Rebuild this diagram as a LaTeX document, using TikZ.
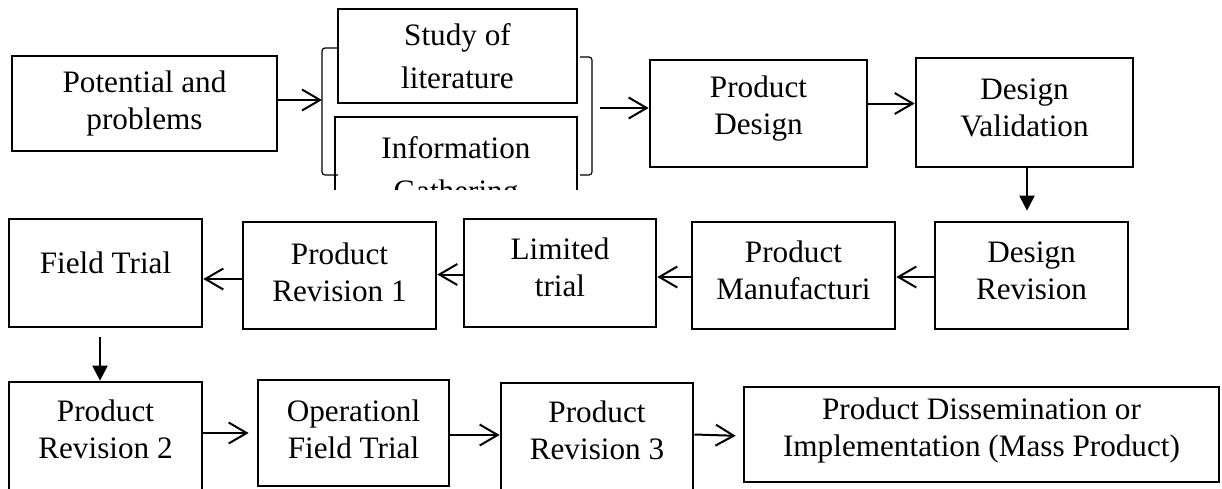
\documentclass[tikz,border=0pt]{standalone}
\usepackage{fontspec}
\setmainfont{Liberation Serif}
\usetikzlibrary{arrows.meta}
\newcommand\boxfont{\fontsize{15.6pt}{18.5pt}\selectfont}
\newcommand\widefont{\fontsize{15.6pt}{21.5pt}\selectfont}
\begin{document}
\begin{tikzpicture}[x=0.5pt,y=-0.5pt,
  box/.style={draw, line width=1.35pt, inner sep=0pt},
  txt/.style={align=center, font=\boxfont, inner sep=0pt},
  arr/.style={line width=1pt, -{Straight Barb[length=9pt,width=10.5pt,line width=1pt]}},
  darr/.style={line width=1pt, -{Triangle[length=7.5pt,width=7.5pt]}},
  brk/.style={line width=0.6pt, rounded corners=1.5pt}]
\clip (0,0) rectangle (1222,488);
\fill[white] (0,0) rectangle (1222,488);

% Row 1
\node[box, minimum width=132.5pt, minimum height=47.5pt] (pp) at (144.5,103.5) {};
\node[txt] (ppt) at (144.5,103.5) {Potential and\\problems};

\node[box, minimum width=119.5pt, minimum height=47pt] (sl) at (457.5,56) {};
\node[txt, font=\widefont] (slt) at (457.5,56) {Study of\\literature};

\begin{scope}
  \clip (320,110) rectangle (590,189);
  \node[box, minimum width=121pt, minimum height=56.5pt] (ig) at (456,173.5) {};
  \node[txt, font=\widefont] (igt) at (456,172) {Information\\Gathering};
\end{scope}

\draw[brk] (338,48) -- (322,48) -- (322,175) -- (338,175);
\draw[brk] (580,57) -- (592,57) -- (592,175) -- (580,175);
\coordinate (bl) at (322,100);
\coordinate (br) at (600,108);

\node[box, minimum width=108.5pt, minimum height=53.5pt] (pd) at (758.5,113.5) {};
\node[txt] (pdt) at (758.5,109) {Product\\Design};

\node[box, minimum width=108.5pt, minimum height=54.5pt] (dv) at (1024.5,112.5) {};
\node[txt] (dvt) at (1024.5,108) {Design\\Validation};

% Row 2
\node[box, minimum width=96.5pt, minimum height=53.5pt] (dr) at (1031.5,275.5) {};
\node[txt] (drt) at (1031.5,270.5) {Design\\Revision};

\node[box, minimum width=101.5pt, minimum height=53.5pt] (pm) at (793.5,275.5) {};
\node[txt] (pmt) at (793.5,270.5) {Product\\Manufacturi};

\node[box, minimum width=96pt, minimum height=54pt] (lt) at (560,273) {};
\node[txt] (ltt) at (560,267) {Limited\\trial};

\node[box, minimum width=96.5pt, minimum height=53.5pt] (pr1) at (339.5,275.5) {};
\node[txt] (pr1t) at (339.5,272) {Product\\Revision 1};

\node[box, minimum width=96.5pt, minimum height=54pt] (ft) at (105.5,273) {};
\node[txt] (ftt) at (105.5,263) {Field Trial};

% Row 3
\node[box, minimum width=96.5pt, minimum height=59pt] (pr2) at (105.5,441) {};
\node[txt] (pr2t) at (105.5,429) {Product\\Revision 2};

\node[box, minimum width=95.5pt, minimum height=53pt] (oft) at (353.5,433) {};
\node[txt] (oftt) at (353.5,429) {Operationl\\Field Trial};

\node[box, minimum width=96pt, minimum height=58.5pt] (pr3) at (597,441.5) {};
\node[txt] (pr3t) at (597,430) {Product\\Revision 3};

\node[box, minimum width=237.5pt, minimum height=47.5pt] (pdi) at (981.5,434.5) {};
\node[txt] (pdit) at (981.5,430) {Product Dissemination or\\Implementation (Mass Product)};

% Connectors
\draw[arr] (pp.east |- bl) -- (bl);
\draw[arr] (br) -- (pd.west |- br);
\draw[arr] ([yshift=5pt]pd.east) -- ([yshift=5pt]pd.east -| dv.west);
\draw[darr, shorten >=5pt] ([xshift=1.25pt]dv.south) -- ([xshift=1.25pt]dv.south |- dr.north);

\draw[arr] ([yshift=-0.75pt]dr.west) -- ([yshift=-0.75pt]dr.west -| pm.east);
\draw[arr] ([yshift=-0.75pt]pm.west) -- ([yshift=-0.75pt]pm.west -| lt.east);
\draw[arr] ([yshift=-0.75pt]lt.west) -- ([yshift=-0.75pt]lt.west -| pr1.east);
\draw[arr] ([yshift=-1.75pt]pr1.west) -- ([yshift=-1.75pt]pr1.west -| ft.east);
\draw[darr, shorten <=4.5pt] ([xshift=-2.75pt]ft.south) -- ([xshift=-2.75pt]ft.south |- pr2.north);

\draw[arr, shorten >=4pt] (pr2.east |- oft.west) -- (oft.west);
\draw[arr] ([yshift=-1pt]oft.east) -- ([yshift=-1pt]oft.east -| pr3.west);
\draw[arr, shorten >=3.5pt] (pr3.east |- pdi.west) -- ([yshift=-0.75pt]pdi.west);
\end{tikzpicture}
\end{document}
